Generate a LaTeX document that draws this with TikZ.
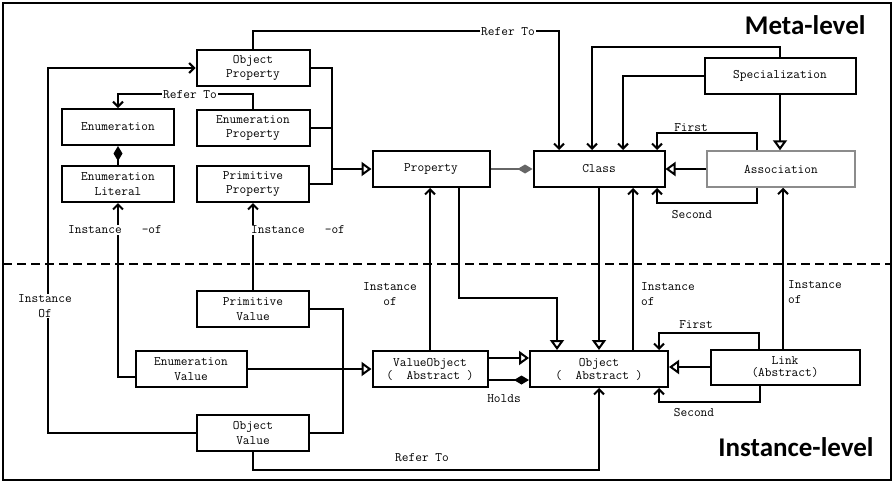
\documentclass[tikz,border=0pt]{standalone}
\usepackage{fontspec}
\newfontfamily\levelfont{Carlito}
\usetikzlibrary{arrows.meta}
\newcommand{\boxfont}{\fontsize{13}{14.5}\selectfont\ttfamily}

\begin{document}
\begin{tikzpicture}[
    x=1pt, y=-1pt,
    box/.style={draw, line width=2pt, minimum width=#1, minimum height=36pt, inner sep=0pt, align=center, font=\boxfont},
    box/.default=113pt,
    ref/.style={-{Straight Barb[length=5pt, width=10pt]}, line width=2pt},
    gen/.style={-{Triangle[open, length=10pt, width=14pt]}, line width=2pt},
    comp/.style={{Diamond[length=15pt, width=9pt]}-, line width=2pt},
    wire/.style={line width=2pt},
    lbl/.style={font=\boxfont, inner sep=1pt, align=center},
    lblcut/.style={lbl, fill=white},
    level/.style={font=\levelfont\fontsize{27}{30}\selectfont\bfseries}
]
\useasboundingbox (0,0) rectangle (894,482);

% Frame and level separator
\draw[line width=2.6pt] (3,3) rectangle (891,480);
\draw[line width=2pt, dash pattern=on 9pt off 5pt] (3,264) -- (891,264);
\node[level, anchor=east] (metalevel) at (869,25) {Meta-level};
\node[level] (instlevel) at (796,447) {Instance-level};

% ObjectProperty
\node[box] (objprop) at (253,68) {Object\\Property};

% Enumeration
\node[box=112pt] (enum) at (118,127) {Enumeration};

% EnumerationProperty
\node[box] (enumprop) at (253,128) {Enumeration\\Property};

% EnumerationLiteral
\node[box=112pt] (enumlit) at (118,184) {Enumeration\\Literal};

% PrimitiveProperty
\node[box=112pt] (primprop) at (253,184) {Primitive\\Property};

% Property
\node[box=117pt] (property) at (431,169) {Property};

% Class
\node[box=131pt] (class) at (599,169) {Class};

% Specialization
\node[box=151pt] (spec) at (780,76) {Specialization};

% Association
\node[box=148pt, draw=black!45, line width=1.5pt] (assoc) at (781,169) {Association};

% PrimitiveValue
\node[box=112pt] (primval) at (253,309) {Primitive\\Value};

% EnumerationValue
\node[box=111pt] (enumval) at (191,369) {Enumeration\\Value};

% ObjectValue
\node[box=112pt] (objval) at (253,433) {Object\\Value};

% ValueObject
\node[box=115pt] (valobj) at (430,369) {ValueObject\\[-1.5pt](~~Abstract~)};

% Object
\node[box=138pt] (object) at (599,369) {Object\\[-1.5pt](~~Abstract~)};

% Link
\node[box=149pt, minimum height=35pt] (link) at (785,367) {Link\\[-2.5pt](Abstract)};

% Meta-level relations
\draw[ref] (objprop.north) -- ++(0,-18) -| ([xshift=-40pt]class.north);
\draw[ref] (spec.north) -- ++(0,-10) -| ([xshift=-7pt]class.north);
\draw[ref] (spec.west) -| ([xshift=24pt]class.north);
\draw[gen] (spec.south) -- (spec.south |- assoc.north);
\draw[gen] (assoc.west) -- (class.east);
\draw[ref] ([xshift=-24pt]assoc.north) -- ++(0,-17) -| ([xshift=58pt]class.north);
\draw[ref] ([xshift=-24pt]assoc.south) -- ++(0,15) -| ([xshift=58pt]class.south);
\draw[comp, line width=1.3pt, draw=black!60] (class.west) -- (property.east);
\coordinate (pjoin) at (332,169);
\draw[wire] (objprop.east) -| (pjoin);
\draw[wire] (enumprop.east) -| (pjoin);
\draw[wire] (primprop.east) -| (pjoin);
\draw[gen] (pjoin) -- (property.west);
\draw[comp] (enum.south) -- (enumlit.north);
\draw[ref] (enumprop.north) -- ++(0,-15) -| (enum.north);

% Instance-level relations
\coordinate (vjoin) at (343,369);
\draw[wire] (primval.east) -| (vjoin);
\draw[wire] (objval.east) -| (vjoin);
\draw[gen] (enumval.east) -- (valobj.west);
\draw[gen] ([yshift=11pt]valobj.east) -- ([yshift=11pt]valobj.east -| object.west);
\draw[comp] ([yshift=-11pt]object.west) -- ([yshift=-11pt]object.west -| valobj.east);
\draw[gen] (link.west) -- (link.west -| object.east);
\draw[ref] ([xshift=-26pt]link.north) -- ++(0,-16) -| ([xshift=60pt]object.north);
\draw[ref] ([xshift=-25pt]link.south) -- ++(0,16) -| ([xshift=60pt]object.south);
\draw[ref] (objval.south) -- ++(0,18) -| (object.south);

% Instance of
\draw[ref] (objval.west) -| ([xshift=-147.5pt]objprop.west) -- (objprop.west);
\draw[ref] ([yshift=-8pt]enumval.west) -| (enumlit.south);
\draw[ref] (primval.north) -- (primprop.south);
\draw[ref] (valobj.north) -- (valobj.north |- property.south);
\draw[gen] ([xshift=28pt]property.south) -- ++(0,110) -| ([xshift=-42pt]object.north);
\draw[gen] (class.south) -- (class.south |- object.north);
\draw[ref] ([xshift=34pt]object.north) -- ([xshift=34pt]object.north |- class.south);
\draw[ref] ([xshift=2pt]assoc.south |- link.north) -- ([xshift=2pt]assoc.south);

% Labels
\node[lblcut] (lblrefer1) at (508,32) {Refer To};
\node[lblcut] (lblrefer2) at (190,95) {Refer To};
\node[lbl] (lblrefer3) at (422,458) {Refer To};
\node[lbl] (lblfirst1) at (691,128) {First};
\node[lbl] (lblsecond1) at (692,215) {Second};
\node[lbl] (lblfirst2) at (696,325) {First};
\node[lbl] (lblsecond2) at (694,413) {Second};
\node[lbl] (lblholds) at (504,399) {Holds};
\node[lblcut] (lblinst1) at (115,230) {Instance\ \ \ -of};
\node[lblcut, anchor=west] (lblinst2) at (250,230) {Instance\ \ \ -of};
\node[lblcut] (lblinst3) at (45,306) {Instance\\Of};
\node[lbl] (lblinst4) at (390,294) {Instance\\of};
\node[lbl, anchor=west, align=left] (lblinst5) at (640,294) {Instance\\of};
\node[lbl, anchor=west, align=left] (lblinst6) at (787,292) {Instance\\of};

\end{tikzpicture}
\end{document}
